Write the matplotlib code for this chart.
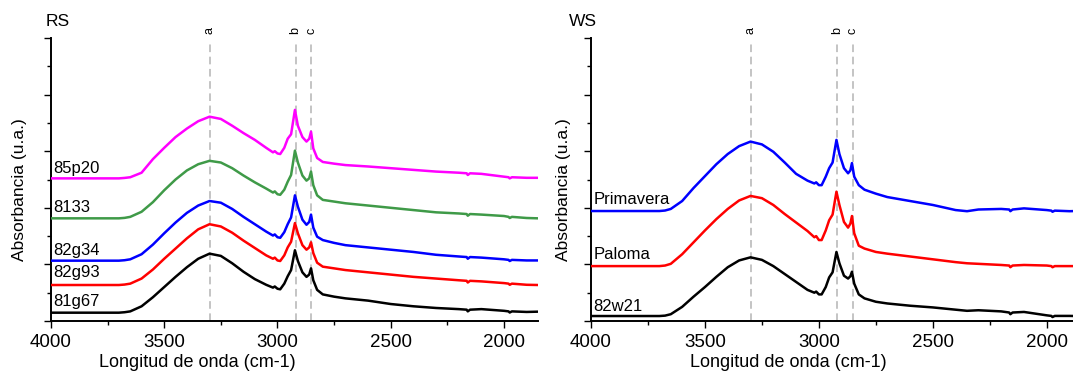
"""FTIR spectra for RS and WS samples, side by side."""

import matplotlib

matplotlib.use("Agg")
import matplotlib.pyplot as plt
from matplotlib.ticker import MultipleLocator

plt.rcParams["font.family"] = ["Liberation Sans", "DejaVu Sans"]

# wavenumbers (cm-1) where the curves were read
wn_rs = [4000, 3700, 3675, 3650, 3600, 3550, 3500, 3450, 3400, 3350, 3300, 3250, 3200,
         3150, 3100, 3050, 3020, 3012, 3000, 2988, 2970, 2955, 2940, 2923, 2910,
         2890, 2872, 2860, 2852, 2842, 2825, 2800, 2750, 2700, 2600, 2500, 2400,
         2300, 2200, 2165, 2160, 2150, 2100, 2000, 1980, 1975, 1965, 1900, 1850]

rs_81g67 = [0.147, 0.147, 0.155, 0.17, 0.26, 0.42, 0.60, 0.78, 0.95, 1.10, 1.19, 1.15, 1.02,
            0.87, 0.74, 0.64, 0.59, 0.61, 0.57, 0.56, 0.66, 0.79, 0.90, 1.25, 1.06,
            0.86, 0.78, 0.82, 0.93, 0.72, 0.55, 0.47, 0.43, 0.40, 0.36, 0.30, 0.26,
            0.23, 0.21, 0.20, 0.17, 0.20, 0.21, 0.18, 0.17, 0.15, 0.17, 0.16, 0.165]
rs_82g93 = [0.636, 0.636, 0.644, 0.66, 0.75, 0.91, 1.10, 1.28, 1.46, 1.62, 1.71, 1.67, 1.56,
            1.42, 1.29, 1.16, 1.10, 1.12, 1.07, 1.06, 1.16, 1.30, 1.40, 1.73, 1.55,
            1.34, 1.26, 1.30, 1.39, 1.20, 1.03, 0.96, 0.93, 0.90, 0.86, 0.82, 0.78,
            0.75, 0.72, 0.71, 0.68, 0.71, 0.70, 0.67, 0.66, 0.64, 0.66, 0.64, 0.636]
rs_82g34 = [1.066, 1.066, 1.074, 1.09, 1.18, 1.35, 1.55, 1.74, 1.91, 2.04, 2.12, 2.09, 1.98,
            1.84, 1.71, 1.58, 1.51, 1.53, 1.48, 1.47, 1.57, 1.71, 1.83, 2.22, 2.02,
            1.79, 1.70, 1.75, 1.88, 1.65, 1.49, 1.43, 1.38, 1.34, 1.30, 1.26, 1.22,
            1.17, 1.14, 1.13, 1.10, 1.13, 1.12, 1.09, 1.08, 1.06, 1.08, 1.07, 1.07]
rs_8133 = [1.814, 1.814, 1.822, 1.84, 1.93, 2.10, 2.31, 2.50, 2.66, 2.77, 2.83, 2.80, 2.70,
           2.57, 2.45, 2.34, 2.27, 2.29, 2.24, 2.23, 2.32, 2.46, 2.58, 3.01, 2.80,
           2.57, 2.48, 2.52, 2.64, 2.40, 2.22, 2.14, 2.11, 2.08, 2.04, 2.00, 1.96,
           1.92, 1.90, 1.89, 1.86, 1.89, 1.88, 1.855, 1.84, 1.82, 1.84, 1.82, 1.814]
rs_85p20 = [2.52, 2.52, 2.528, 2.54, 2.62, 2.86, 3.06, 3.25, 3.40, 3.53, 3.61, 3.57, 3.45,
            3.32, 3.20, 3.06, 2.98, 3.00, 2.96, 2.95, 3.06, 3.22, 3.30, 3.73, 3.45,
            3.25, 3.17, 3.22, 3.345, 3.05, 2.88, 2.81, 2.78, 2.755, 2.73, 2.70, 2.67,
            2.64, 2.62, 2.61, 2.58, 2.61, 2.60, 2.55, 2.54, 2.52, 2.54, 2.53, 2.53]

wn_ws = [4000, 3700, 3675, 3650, 3600, 3550, 3500, 3450, 3400, 3350, 3300, 3250, 3200,
         3150, 3100, 3050, 3020, 3012, 3000, 2988, 2970, 2955, 2940, 2923, 2910,
         2890, 2872, 2862, 2855, 2845, 2825, 2800, 2750, 2700, 2600, 2500, 2400,
         2350, 2300, 2200, 2165, 2160, 2150, 2100, 2000, 1980, 1975, 1965, 1900, 1875]

ws_82w21 = [0.088, 0.088, 0.095, 0.12, 0.25, 0.43, 0.60, 0.78, 0.95, 1.07, 1.125, 1.08, 0.97,
            0.83, 0.69, 0.55, 0.50, 0.52, 0.47, 0.47, 0.60, 0.77, 0.86, 1.22, 1.02,
            0.80, 0.75, 0.79, 0.87, 0.66, 0.47, 0.40, 0.34, 0.31, 0.27, 0.24, 0.20,
            0.18, 0.19, 0.17, 0.15, 0.12, 0.15, 0.16, 0.10, 0.09, 0.07, 0.09, 0.09, 0.088]
ws_paloma = [0.97, 0.97, 0.98, 1.01, 1.18, 1.39, 1.60, 1.80, 1.98, 2.13, 2.21, 2.17, 2.05,
             1.89, 1.74, 1.59, 1.48, 1.50, 1.43, 1.43, 1.60, 1.78, 1.88, 2.285, 2.05,
             1.75, 1.65, 1.72, 1.855, 1.55, 1.33, 1.28, 1.22, 1.19, 1.14, 1.09, 1.04,
             1.02, 1.01, 0.99, 0.98, 0.95, 0.98, 0.99, 0.98, 0.97, 0.95, 0.97, 0.97, 0.97]
ws_primavera = [1.943, 1.943, 1.952, 1.98, 2.12, 2.35, 2.56, 2.77, 2.95, 3.09, 3.17, 3.12, 2.99,
                2.80, 2.60, 2.48, 2.43, 2.45, 2.40, 2.40, 2.55, 2.70, 2.80, 3.20, 2.95,
                2.70, 2.61, 2.66, 2.79, 2.55, 2.40, 2.32, 2.25, 2.19, 2.12, 2.05, 1.96,
                1.94, 1.97, 1.98, 1.97, 1.94, 1.97, 1.99, 1.96, 1.95, 1.93, 1.95, 1.94, 1.943]

# band markers
band_pos = [3300, 2920, 2852]
band_names = ["a", "b", "c"]

rs_series = [
    ("81g67", rs_81g67, "black", 0.35),
    ("82g93", rs_82g93, "#ff0000", 0.85),
    ("82g34", rs_82g34, "#0000ff", 1.24),
    ("8133", rs_8133, "#3f9a48", 2.0),
    ("85p20", rs_85p20, "#ff00ff", 2.70),
]
ws_series = [
    ("82w21", ws_82w21, "black", 0.25),
    ("Paloma", ws_paloma, "#ff0000", 1.18),
    ("Primavera", ws_primavera, "#0000ff", 2.14),
]


def draw_panel(ax, wn, series, xmax, title, title_x, xlabel_x, ylabel_x):
    for name, values, color, label_y in series:
        ax.plot(wn, values, color=color, lw=1.8, zorder=3, solid_joinstyle="round")
        ax.text(3988, label_y, name, fontsize=12, ha="left", va="center")
    ax.vlines(band_pos, 0, 4.91, colors="#b4b4b4", linestyles=(0, (5, 3)),
              lw=1.1, zorder=1)
    for pos, name in zip(band_pos, band_names):
        ax.text(pos, 5.13, name, rotation=90, fontsize=9, ha="center",
                va="center", clip_on=False)
    ax.set_xlim(4000, xmax)
    ax.set_ylim(0, 5)
    ax.xaxis.set_major_locator(MultipleLocator(500))
    ax.xaxis.set_minor_locator(MultipleLocator(250))
    ax.yaxis.set_major_locator(MultipleLocator(1))
    ax.yaxis.set_minor_locator(MultipleLocator(0.5))
    ax.set_yticklabels([])
    ax.tick_params(which="both", direction="out", width=1.0)
    ax.tick_params(which="major", length=5, labelsize=13.5, pad=4)
    ax.tick_params(which="minor", length=3)
    for side in ("top", "right"):
        ax.spines[side].set_visible(False)
    for side in ("left", "bottom"):
        ax.spines[side].set_linewidth(1.4)
    ax.set_xlabel("Longitud de onda (cm-1)", fontsize=13)
    ax.xaxis.set_label_coords(xlabel_x, -0.145)
    ax.xaxis.label.set_va("center")
    ax.set_ylabel("Absorbancia (u.a.)", fontsize=12.5)
    ax.yaxis.set_label_coords(ylabel_x, 0.463)
    ax.yaxis.label.set_va("center")
    ax.text(title_x, 1.06, title, fontsize=12.5, transform=ax.transAxes,
            ha="left", va="center")


fig = plt.figure(figsize=(10.73, 3.73), dpi=100)
ax_rs = fig.add_axes([0.0475, 0.1394, 0.4539, 0.7587])
ax_ws = fig.add_axes([0.5508, 0.1394, 0.4492, 0.7587])

draw_panel(ax_rs, wn_rs, rs_series, 1850, "RS", -0.01, 0.30, -0.064)
draw_panel(ax_ws, wn_ws, ws_series, 1885, "WS", -0.045, 0.41, -0.058)

fig.savefig("out.png", dpi=100)
